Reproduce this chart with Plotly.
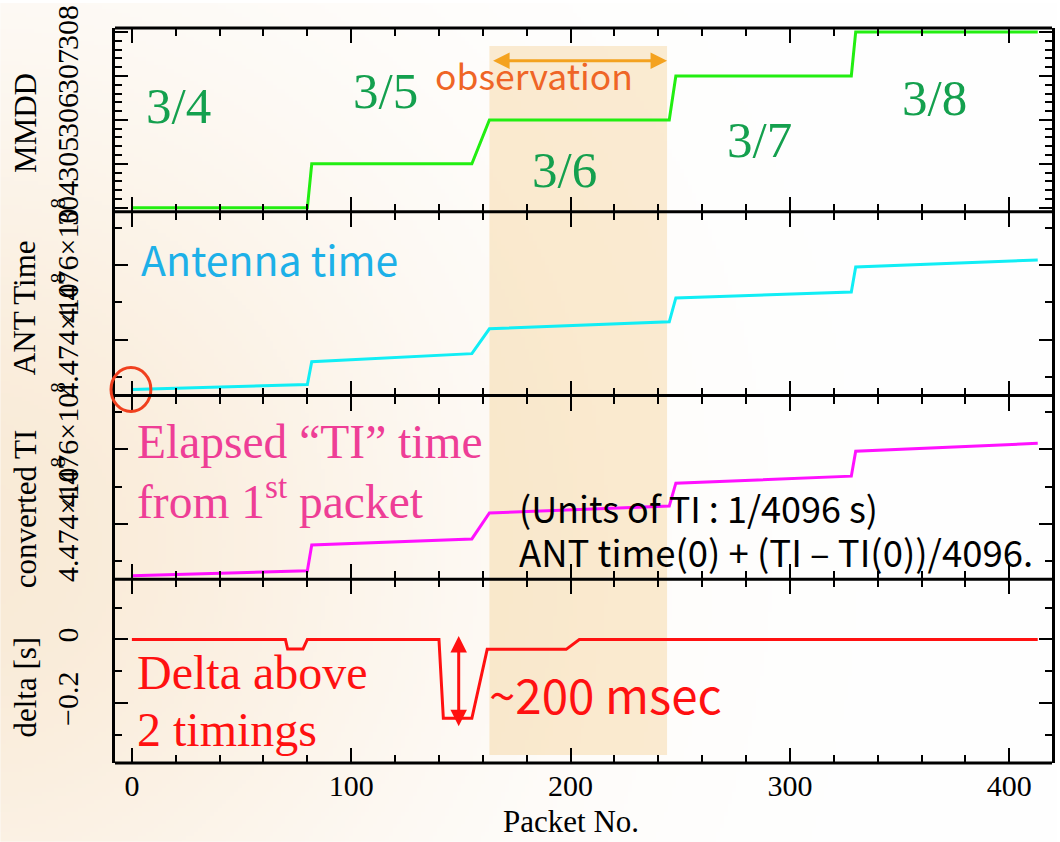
import base64
import struct
import zlib

import numpy as np
import plotly.graph_objects as go
from plotly.subplots import make_subplots

# ---------------- data ----------------
packet_mmdd = [0, 80, 82, 155, 163, 245, 248, 328, 330, 413]
mmdd = [304, 304, 305, 305, 306, 306, 307, 307, 308, 308]

packet_ant = [0, 80, 82, 155, 163, 245, 248, 328, 330, 413]
ant_time = [447266650, 447280000, 447341300, 447362700, 447429300,
            447448000, 447512000, 447528000, 447594700, 447613400]

packet_ti = [0, 80, 82, 155, 163, 245, 248, 328, 330, 413]
converted_ti = [447261300, 447274700, 447344000, 447360000, 447429300,
                447448000, 447509300, 447528000, 447594700, 447616000]

packet_delta = [0, 70, 71, 78, 80, 140, 142, 155, 162, 198, 204, 413]
delta = [0, 0, -0.03, -0.03, 0, 0, -0.247, -0.247, -0.031, -0.031, 0, 0]

observation_range = [163, 244]

date_labels = ["3/4", "3/5", "3/6", "3/7", "3/8"]

mmdd_tickvals = [304, 305, 306, 307, 308]
mmdd_ticktext = ["304", "305", "306", "307", "308"]
time_tickvals = [447400000, 447600000]
time_ticktext = ["4.474×10<sup>8</sup>", "4.476×10<sup>8</sup>"]
delta_tickvals = [0, -0.2]
delta_ticktext = ["0", "−0.2"]
x_tickvals = [0, 100, 200, 300, 400]

# ---------------- layout constants ----------------
W, H = 1060, 842
ML, MR, MT, MB = 115, 5, 25, 79
PW, PH = W - ML - MR, H - MT - MB

SERIF = "Liberation Serif, Times New Roman, serif"
SANS = "Noto Sans CJK JP, Noto Sans, sans-serif"


def px(xp):
    return (xp - ML) / PW


def py(yp):
    return (MT + PH - yp) / PH


def png_uri(arr):
    h, w, _ = arr.shape
    raw = b"".join(b"\x00" + arr[i].tobytes() for i in range(h))

    def chunk(t, d):
        return (struct.pack(">I", len(d)) + t + d
                + struct.pack(">I", zlib.crc32(t + d) & 0xFFFFFFFF))

    png = (b"\x89PNG\r\n\x1a\n"
           + chunk(b"IHDR", struct.pack(">IIBBBBB", w, h, 8, 2, 0, 0, 0))
           + chunk(b"IDAT", zlib.compress(raw, 9))
           + chunk(b"IEND", b""))
    return "data:image/png;base64," + base64.b64encode(png).decode()


# soft warm background glow (decoration)
gh, gw = H // 4, W // 4
yy, xx = np.mgrid[0:gh, 0:gw] * 4.0
d2 = (xx + 40) ** 2 + (yy - 540) ** 2
f = 0.62 * np.exp(-d2 / (2 * 330.0 ** 2))
warm = np.array([246, 222, 190], dtype=float)
img = 255 - f[..., None] * (255 - warm)
bg_uri = png_uri(np.clip(img, 0, 255).astype(np.uint8))

# ---------------- figure ----------------
fig = make_subplots(rows=4, cols=1, shared_xaxes=True, vertical_spacing=0)

fig.add_trace(go.Scatter(x=packet_mmdd, y=mmdd, mode="lines",
                         line=dict(color="#22EE11", width=3)), row=1, col=1)
fig.add_trace(go.Scatter(x=packet_ant, y=ant_time, mode="lines",
                         line=dict(color="#11EEF5", width=3)), row=2, col=1)
fig.add_trace(go.Scatter(x=packet_ti, y=converted_ti, mode="lines",
                         line=dict(color="#FF11FF", width=3)), row=3, col=1)
fig.add_trace(go.Scatter(x=packet_delta, y=delta, mode="lines",
                         line=dict(color="#FF1111", width=3)), row=4, col=1)

xcommon = dict(range=[-7.7, 419.5], tickvals=x_tickvals, ticks="inside",
               ticklen=15, tickwidth=2, tickcolor="black", mirror="allticks",
               showline=False, showgrid=False, zeroline=False,
               minor=dict(dtick=20, tick0=0, ticks="inside", ticklen=8,
                          tickwidth=2, tickcolor="black"),
               tickfont=dict(family=SERIF, size=30, color="black"))
for r in range(1, 5):
    fig.update_xaxes(showticklabels=(r == 4), row=r, col=1, **xcommon)
fig.update_xaxes(ticklabelstandoff=2, row=4, col=1)

ycommon = dict(ticks="inside", ticklen=13, tickwidth=2, tickcolor="black",
               mirror="allticks", showline=True, linecolor="black",
               linewidth=3, showgrid=False, zeroline=False, tickangle=-90,
               ticklabelstandoff=22,
               tickfont=dict(family=SERIF, size=30, color="black"))

fig.update_yaxes(range=[303.91, 308.09], tickmode="array",
                 tickvals=mmdd_tickvals, ticktext=mmdd_ticktext,
                 minor=dict(dtick=0.2, tick0=304, ticks="inside", ticklen=7,
                            tickwidth=2, tickcolor="black"),
                 row=1, col=1, **ycommon)
fig.update_yaxes(range=[447250667, 447742667], tickmode="array",
                 tickvals=time_tickvals, ticktext=time_ticktext,
                 minor=dict(dtick=100000, tick0=0, ticks="inside", ticklen=7,
                            tickwidth=2, tickcolor="black"),
                 row=2, col=1, **ycommon)
fig.update_yaxes(range=[447252000, 447744000], tickmode="array",
                 tickvals=time_tickvals, ticktext=time_ticktext,
                 minor=dict(dtick=100000, tick0=0, ticks="inside", ticklen=7,
                            tickwidth=2, tickcolor="black"),
                 row=3, col=1, **ycommon)
fig.update_yaxes(range=[-0.3875, 0.189], tickmode="array",
                 tickvals=delta_tickvals, ticktext=delta_ticktext,
                 minor=dict(dtick=0.1, tick0=0, ticks="inside", ticklen=7,
                            tickwidth=2, tickcolor="black"),
                 row=4, col=1, **ycommon)

shapes = [
    dict(type="rect", xref="x", yref="paper",
         x0=observation_range[0], x1=observation_range[1],
         y0=py(755), y1=py(43), fillcolor="rgba(242,196,120,0.33)",
         line=dict(width=0), layer="below"),
    dict(type="circle", xref="paper", yref="paper",
         x0=px(111), x1=px(151), y0=py(410), y1=py(366),
         line=dict(color="#F0401E", width=3)),
]
# horizontal frame lines (single line at each panel boundary)
for yb in [0, 0.25, 0.5, 0.75, 1.0]:
    shapes.append(dict(type="line", xref="paper", yref="paper",
                       x0=0, x1=1, y0=yb, y1=yb,
                       line=dict(color="black", width=3)))


def label(text, xp, yp, size, color, family, xanchor="center", **kw):
    return dict(text=text, x=px(xp), y=py(yp), xref="paper", yref="paper",
                xanchor=xanchor, yanchor="middle", showarrow=False,
                font=dict(family=family, size=size, color=color), **kw)


ann = []
green = "#14A04E"
date_pos = [(179, 103), (386, 88), (566, 168), (762, 137), (937, 95)]
for lab, (xp, yp) in zip(date_labels, date_pos):
    ann.append(label(lab, xp, yp, 51, green, SERIF))

# observation arrow and text
ann.append(dict(x=observation_range[1], y=py(58), xref="x", yref="paper",
                ax=observation_range[0] + 1, ay=0, axref="x", ayref="pixel",
                text="", showarrow=True, arrowside="end+start", arrowhead=2,
                arrowsize=1.1, arrowwidth=3, arrowcolor="#F4A21F"))
ann.append(label("observation", 535, 72, 35.5, "#EF6526", SANS))

ann.append(label("Antenna time", 139, 256, 41, "#1DB0E8", SANS, "left"))

pink = "#EE3E96"
ann.append(label("Elapsed “TI” time", 135, 441, 47.5, pink, SERIF, "left"))
ann.append(label("from 1<sup>st</sup> packet", 135, 497, 47.5, pink, SERIF,
                 "left"))

ann.append(label("(Units of TI : 1/4096 s)", 518, 506, 36, "black", SANS,
                 "left"))
ann.append(label("ANT time(0) + (TI – TI(0))/4096.", 518, 551, 36.5,
                 "black", SANS, "left"))

red = "#FF1111"
ann.append(label("Delta above", 135, 672, 48, red, SERIF, "left"))
ann.append(label("2 timings", 135, 729, 48, red, SERIF, "left"))

ann.append(dict(x=149, y=-0.272, xref="x4", yref="y4",
                ax=0, ay=0.016, axref="pixel", ayref="y4",
                text="", showarrow=True, arrowside="end+start", arrowhead=2,
                arrowsize=1.1, arrowwidth=3, arrowcolor=red))
ann.append(label("~200 msec", 488, 693, 47.5, red, SANS, "left"))

# axis titles
titles = [("MMDD", 25, 120), ("ANT Time", 25, 306),
          ("converted TI", 25, 508), ("delta [s]", 25, 687)]
for t, xp, yp in titles:
    ann.append(label(t, xp, yp, 31, "black", SERIF, textangle=-90))
ann.append(label("Packet No.", 572, 822, 31, "black", SERIF))

fig.update_layout(
    width=W, height=H, margin=dict(l=ML, r=MR, t=MT, b=MB),
    paper_bgcolor="white", plot_bgcolor="rgba(0,0,0,0)",
    showlegend=False, shapes=shapes, annotations=ann,
    images=[dict(source=bg_uri, xref="paper", yref="paper",
                 x=-ML / PW, y=1 + MT / PH, sizex=W / PW, sizey=H / PH,
                 xanchor="left", yanchor="top", sizing="stretch",
                 layer="below")],
)

fig.write_html("out.html")
